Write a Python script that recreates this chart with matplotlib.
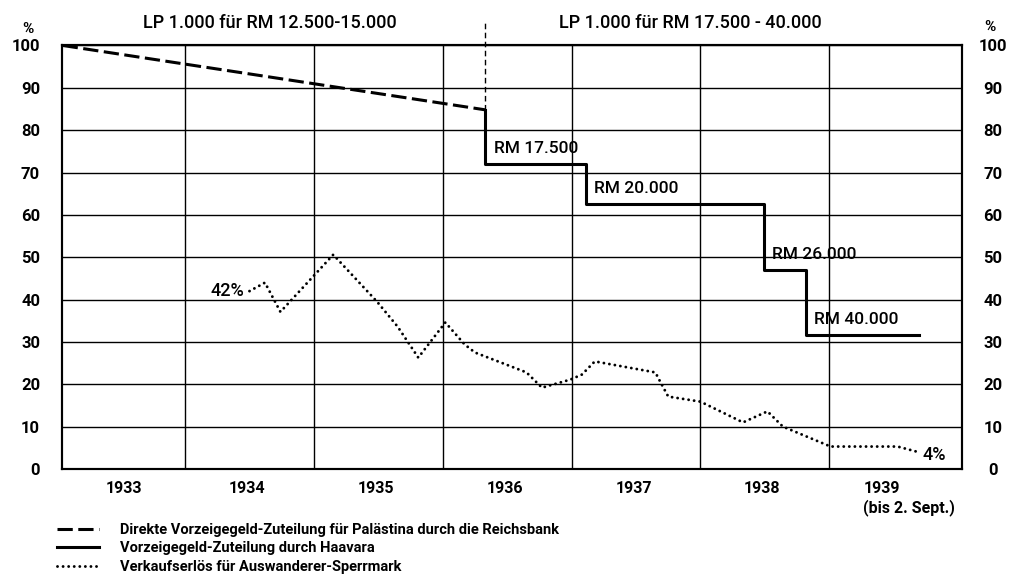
import numpy as np
import matplotlib
matplotlib.use("Agg")
import matplotlib.pyplot as plt

plt.rcParams['font.family'] = ['Roboto', 'DejaVu Sans']

# Direkte Vorzeigegeld-Zuteilung durch die Reichsbank (% des RM-Betrags)
reichsbank_x = [1933.05, 1936.33]
reichsbank_y = [100.0, 84.8]

# Vorzeigegeld-Zuteilung durch Haavara (Stufen)
haavara_x = [1936.33, 1936.33, 1937.11, 1938.49, 1938.82, 1939.70]
haavara_y = [84.8, 72.0, 62.6, 47.0, 31.6, 31.6]
haavara_labels = ['RM 17.500', 'RM 20.000', 'RM 26.000', 'RM 40.000']

# Verkaufserlös für Auswanderer-Sperrmark
sperr_x = [1934.50, 1934.62, 1934.74, 1935.15, 1935.49, 1935.65, 1935.81, 1936.02,
           1936.17, 1936.25, 1936.65, 1936.77, 1936.99, 1937.08, 1937.18, 1937.65,
           1937.70, 1937.75, 1938.00, 1938.33, 1938.52, 1938.64, 1939.01, 1939.53,
           1939.69]
sperr_y = [42.0, 44.0, 37.1, 50.6, 39.5, 33.6, 26.3, 34.6,
           29.4, 27.5, 22.8, 19.2, 21.1, 22.3, 25.4, 22.8,
           19.9, 17.1, 15.9, 11.0, 13.6, 10.0, 5.3, 5.3,
           4.0]

years = [1933, 1934, 1935, 1936, 1937, 1938, 1939]
year_labels = ['1933', '1934', '1935', '1936', '1937', '1938', '1939\n(bis 2. Sept.)']
pct_ticks = list(range(0, 101, 10))

legend_labels = ['Direkte Vorzeigegeld-Zuteilung für Palästina durch die Reichsbank',
                 'Vorzeigegeld-Zuteilung durch Haavara',
                 'Verkaufserlös für Auswanderer-Sperrmark']

x_start, x_end = 1933.045, 1940.03

fig = plt.figure(figsize=(10.12, 5.77), dpi=100)
ax = fig.add_axes([0.0613, 0.1872, 0.8893, 0.7340])
ax.set_xlim(x_start, x_end)
ax.set_ylim(0, 100)

# Linien
l1, = ax.plot(reichsbank_x, reichsbank_y, color='black', lw=2.2, dashes=(5, 1.8), zorder=3)
l2, = ax.plot(haavara_x, haavara_y, color='black', lw=2.2, drawstyle='steps-post', zorder=3)
l3, = ax.plot(sperr_x, sperr_y, color='black', lw=2.1, linestyle=(0, (0.01, 1.9)),
              dash_capstyle='round', zorder=3)

# Trennlinie der Kursperioden
ax.axvline(reichsbank_x[-1], ymin=reichsbank_y[-1] / 100, ymax=1.06, color='black',
           lw=1.0, dashes=(4, 2.5), clip_on=False)

# Beschriftung der Stufen
for i, lab in enumerate(haavara_labels):
    ax.annotate(lab, (haavara_x[i + 1], haavara_y[i + 1]), xytext=(6, 11),
                textcoords='offset points', ha='left', va='center', fontsize=12.5,
                fontweight='medium')

ax.annotate('42%', (sperr_x[0], sperr_y[0]), xytext=(-4, 0), textcoords='offset points',
            ha='right', va='center', fontsize=13, fontweight='medium')
ax.annotate('4%', (sperr_x[-1], sperr_y[-1]), xytext=(3, -2), textcoords='offset points',
            ha='left', va='center', fontsize=13, fontweight='medium')

# Gitter
ax.set_xticks(years[1:])
ax.set_xticklabels([])
label_pos = [(x_start + 1934) / 2] + [y + 0.48 for y in years[1:-1]] + [1939.265]
ax.set_xticks(label_pos, minor=True)
ax.set_xticklabels(year_labels, minor=True, fontweight='bold', fontsize=11.5)
ax.get_xticklabels(minor=True)[-1].set_horizontalalignment('left')
ax.tick_params(axis='x', which='both', length=0, pad=9)

ax.set_yticks(pct_ticks)
ax.set_yticklabels([str(v) for v in pct_ticks], fontweight='bold', fontsize=12)
ax.tick_params(axis='y', length=0, pad=15.8)
ax.grid(True, which='major', color='black', lw=1.0)
for sp in ax.spines.values():
    sp.set_linewidth(1.5)

ax2 = ax.twinx()
ax2.set_ylim(0, 100)
ax2.set_yticks(pct_ticks)
ax2.set_yticklabels([str(v) for v in pct_ticks], fontweight='bold', fontsize=12)
for t in ax2.get_yticklabels():
    t.set_horizontalalignment('center')
ax2.tick_params(axis='y', length=0, pad=22.3)
for sp in ax2.spines.values():
    sp.set_linewidth(1.5)

# Prozentzeichen
fig.text(28 / 1012, 1 - 29 / 577, '%', ha='center', va='center', fontsize=11, fontweight='bold')
fig.text(990 / 1012, 1 - 27 / 577, '%', ha='center', va='center', fontsize=11, fontweight='bold')

# Kopfzeilen
fig.text(270 / 1012, 1 - 23 / 577, 'LP 1.000 für RM 12.500-15.000', ha='center', va='center',
         fontsize=13, fontweight='medium')
fig.text(690 / 1012, 1 - 23 / 577, 'LP 1.000 für RM 17.500 - 40.000', ha='center', va='center',
         fontsize=13, fontweight='medium')

# Legende
fig.legend([l1, l2, l3], legend_labels, loc='upper left', bbox_to_anchor=(57 / 1012, 1 - 523 / 577),
           frameon=False, handlelength=2.9, handletextpad=1.4,
           labelspacing=0.3, borderpad=0, borderaxespad=0,
           prop={'weight': 'bold', 'size': 10.5})

fig.savefig('out.png', dpi=100)
